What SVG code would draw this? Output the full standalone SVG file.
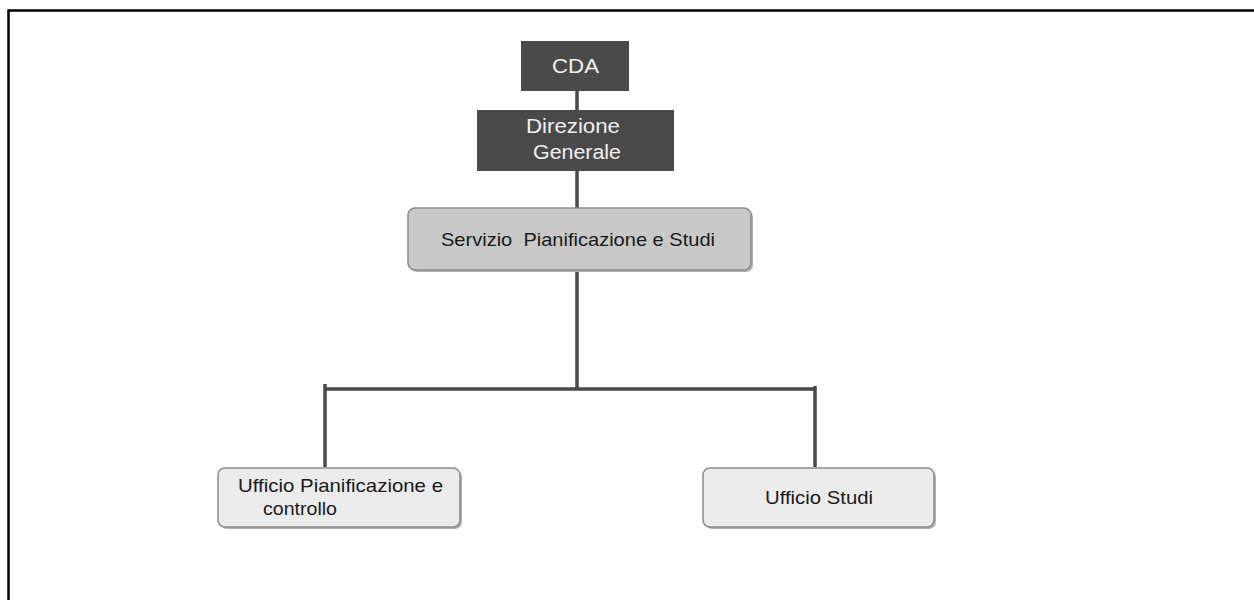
<svg xmlns="http://www.w3.org/2000/svg" width="1254" height="600" viewBox="0 0 1254 600">
<style>
.frame{stroke:#000;stroke-width:2.5;fill:none}
.dark{fill:#4a4a4a}
.mid{fill:#c8c8c8;stroke:#8a8a8a;stroke-width:1.5}
.light{fill:#ebebeb;stroke:#8a8a8a;stroke-width:1.5}
.shadow{fill:#b0b0b0}
.conn{stroke:#4a4a4a;stroke-width:3.5;fill:none}
.tw{font-family:"Liberation Sans",Arial,sans-serif;fill:#f0f0f0;font-size:20.5px;text-anchor:middle}
.tb{font-family:"Liberation Sans",Arial,sans-serif;fill:#1a1a1a;font-size:19px;text-anchor:middle}
</style>
<rect width="1254" height="600" fill="#fff"/>
<path class="frame" d="M8.5,600 V10.5 H1254"/>
<g id="connectors">
<path class="conn" d="M577,91 V110 M577,171 V208 M577,270 V389 M325,389 H816 M325,384 V467 M815,386 V467"/>
</g>
<g id="cda">
<rect class="dark" x="521" y="41" width="108" height="50"/>
<text class="tw" x="575.5" y="73" textLength="47" lengthAdjust="spacingAndGlyphs">CDA</text>
</g>
<g id="direzione">
<rect class="dark" x="477" y="110" width="197" height="61"/>
<text class="tw" x="573" y="133" textLength="94" lengthAdjust="spacingAndGlyphs">Direzione</text>
<text class="tw" x="577" y="159" textLength="88" lengthAdjust="spacingAndGlyphs">Generale</text>
</g>
<g id="servizio">
<rect class="shadow" x="410" y="210" width="343" height="62" rx="7"/>
<rect class="mid" x="408" y="208" width="343" height="62" rx="7"/>
<text class="tb" x="578" y="246" textLength="274" lengthAdjust="spacingAndGlyphs" xml:space="preserve">Servizio  Pianificazione e Studi</text>
</g>
<g id="ufficio-pianificazione">
<rect class="shadow" x="220" y="470" width="242" height="59" rx="7"/>
<rect class="light" x="218" y="468" width="242" height="59" rx="7"/>
<text class="tb" x="340.5" y="492" textLength="205" lengthAdjust="spacingAndGlyphs">Ufficio Pianificazione e</text>
<text class="tb" x="300" y="515" textLength="74" lengthAdjust="spacingAndGlyphs">controllo</text>
</g>
<g id="ufficio-studi">
<rect class="shadow" x="705" y="470" width="231" height="59" rx="7"/>
<rect class="light" x="703" y="468" width="231" height="59" rx="7"/>
<text class="tb" x="819" y="504" textLength="108" lengthAdjust="spacingAndGlyphs">Ufficio Studi</text>
</g>
</svg>
